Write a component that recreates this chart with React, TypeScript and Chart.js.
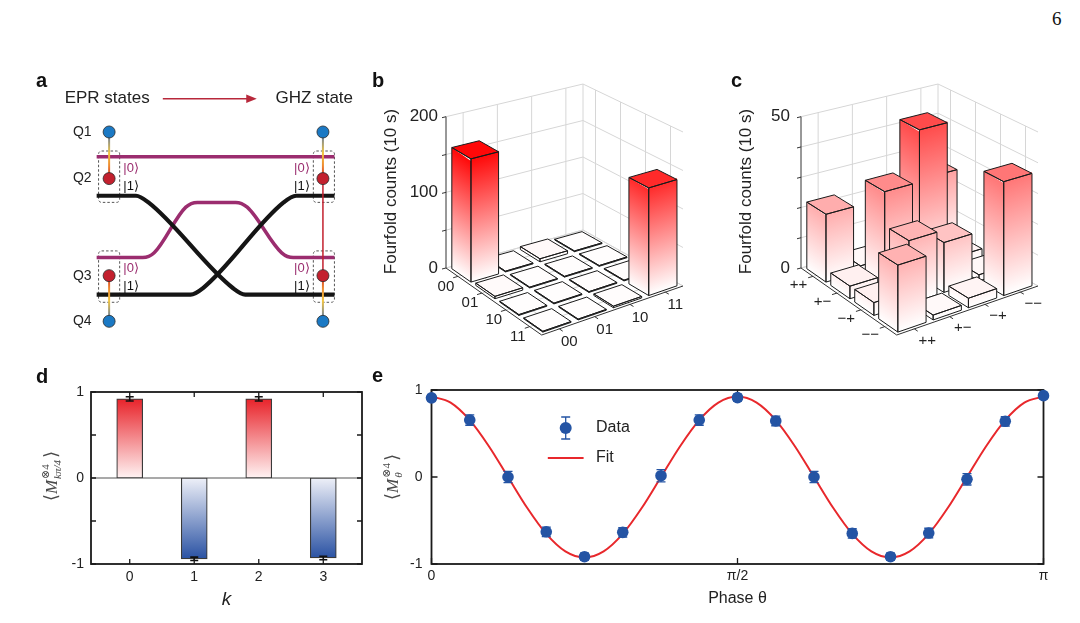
import React, { useEffect, useRef } from "react";
import { Chart, registerables } from "chart.js";

Chart.register(...registerables);

const SANS = "'Liberation Sans', Arial, Helvetica, sans-serif";
const SERIF = "'Liberation Serif', 'DejaVu Serif', serif";
Chart.defaults.font.family = SANS;
Chart.defaults.color = "#222";

// ================= Panel a (schematic, diagram units) =================
const qubitLabels = ["Q1", "Q2", "Q3", "Q4"];
const qubitRowsY = [128, 177, 279, 327];
const qubitColsX = [105, 328];
const qubitColors = ["#1b79c4", "#c3202e", "#c3202e", "#1b79c4"];
const pathPurpleTop = [[92, 154], [340, 154]];
const pathPurpleLow = [[92, 260], [140, 260], [152, 255], [185, 207], [197, 202], [237, 202], [249, 207], [285, 255], [297, 260], [340, 260]];
const pathBlackQ2 = [[92, 195], [133, 195], [146, 202], [234, 292], [247, 299], [340, 299]];
const pathBlackQ3 = [[92, 299], [190, 299], [203, 292], [287, 202], [300, 195], [340, 195]];
const ketTexts = ["|0⟩", "|1⟩"];
const ketRowsY = [[166, 185], [271, 290]];
const ketColsX = [128, 306];
const boxColsX = [[94, 116], [318, 340]];
const boxRowsY = [[148, 202], [253, 307]];

// ================= Panel b =================
const bLabels = ["00", "01", "10", "11"];
const bRow00 = [160, 1, 4, 1];
const bRow01 = [3, 1, 1, 1];
const bRow10 = [1, 1, 1, 1];
const bRow11 = [1, 1, 2, 138];
const bZTicks = [0, 50, 100, 150, 200];
const bZTickLabels = ["0", "", "100", "", "200"];

// ================= Panel c =================
const cLabels = ["++", "+\u2212", "\u2212+", "\u2212\u2212"];
const cRowPP = [22, 2, 1, 25];
const cRowPM = [4, 31, 48, 3];
const cRowMP = [4, 20, 16, 2];
const cRowMM = [20.5, 1.5, 3, 36.5];
const cZTicks = [0, 10, 20, 30, 40, 50];
const cZTickLabels = ["0", "", "", "", "", "50"];

// ================= Panel d =================
const kValues = [0, 1, 2, 3];
const kTickLabels = ["0", "1", "2", "3"];
const dValues = [0.92, -0.94, 0.92, -0.93];
const dErrors = [0.025, 0.02, 0.025, 0.02];
const dYTicks = [-1, -0.5, 0, 0.5, 1];
const dYTickLabels = ["-1", "", "0", "", "1"];

// ================= Panel e =================
const phaseE = [0, 0.0625, 0.125, 0.1875, 0.25, 0.3125, 0.375, 0.4375, 0.5, 0.5625, 0.625, 0.6875, 0.75, 0.8125, 0.875, 0.9375, 1];
const dataE = [0.91, 0.655, 0.0, -0.63, -0.916, -0.636, 0.015, 0.655, 0.912, 0.644, 0.0, -0.648, -0.916, -0.644, -0.027, 0.64, 0.935];
const errE = [0.035, 0.06, 0.065, 0.055, 0.04, 0.055, 0.07, 0.06, 0.04, 0.055, 0.065, 0.055, 0.04, 0.055, 0.065, 0.055, 0.035];
const fitPhase = [0, 0.03125, 0.0625, 0.09375, 0.125, 0.15625, 0.1875, 0.21875, 0.25, 0.28125, 0.3125, 0.34375, 0.375, 0.40625, 0.4375, 0.46875, 0.5, 0.53125, 0.5625, 0.59375, 0.625, 0.65625, 0.6875, 0.71875, 0.75, 0.78125, 0.8125, 0.84375, 0.875, 0.90625, 0.9375, 0.96875, 1];
const fitE = [0.925, 0.855, 0.654, 0.354, 0, -0.354, -0.654, -0.855, -0.925, -0.855, -0.654, -0.354, 0, 0.354, 0.654, 0.855, 0.925, 0.855, 0.654, 0.354, 0, -0.354, -0.654, -0.855, -0.925, -0.855, -0.654, -0.354, 0, 0.354, 0.654, 0.855, 0.925];
const eXTicks = [0, 0.5, 1];
const eXTickLabels = ["0", "π/2", "π"];
const eYTicks = [-1, 0, 1];
const eYTickLabels = ["-1", "0", "1"];

const BLUE = "#2454a4";
const RED = "#e8282c";

type P2 = [number, number];

function ChartPanel(props: { left: number; top: number; width: number; height: number; make: () => any }) {
  const ref = useRef<HTMLCanvasElement | null>(null);
  useEffect(() => {
    if (!ref.current) return;
    const chart = new Chart(ref.current, props.make());
    return () => chart.destroy();
  }, []);
  const { left, top, width, height } = props;
  return (
    <canvas
      ref={ref}
      width={width}
      height={height}
      style={{ position: "absolute", left, top, width, height }}
    />
  );
}

function drawMathLabel(ctx: CanvasRenderingContext2D, cx: number, cy: number, sub: string) {
  ctx.save();
  ctx.translate(cx, cy);
  ctx.rotate(-Math.PI / 2);
  ctx.fillStyle = "#4a4a4a";
  ctx.textBaseline = "alphabetic";
  ctx.textAlign = "left";
  const fBr = `18px ${SERIF}`;
  const fM = `italic 17px ${SERIF}`;
  const fSup = `11px ${SERIF}`;
  const fSub = `italic 11px ${SERIF}`;
  const w = (f: string, t: string) => {
    ctx.font = f;
    return ctx.measureText(t).width;
  };
  const wL = w(fBr, "⟨"), wM = w(fM, "M"), wSup = w(fSup, "⊗4"), wSub = w(fSub, sub), wR = w(fBr, "⟩");
  const wS = Math.max(wSup, wSub);
  const total = wL + wM + 1 + wS + 2 + wR;
  let x = -total / 2;
  const base = 5;
  ctx.font = fBr; ctx.fillText("⟨", x, base); x += wL;
  ctx.font = fM; ctx.fillText("M", x, base); x += wM + 1;
  ctx.font = fSup; ctx.fillText("⊗4", x, base - 8);
  ctx.font = fSub; ctx.fillText(sub, x, base + 4);
  x += wS + 2;
  ctx.font = fBr; ctx.fillText("⟩", x, base);
  ctx.restore();
}

function drawFrame(chart: any, xTicks: number[], yTicks: number[], len: number) {
  const { ctx, chartArea: a, scales } = chart;
  const x = scales.x, y = scales.y;
  ctx.save();
  ctx.strokeStyle = "#1a1a1a";
  ctx.lineWidth = 1.8;
  ctx.strokeRect(a.left, a.top, a.right - a.left, a.bottom - a.top);
  ctx.lineWidth = 1.3;
  ctx.beginPath();
  xTicks.forEach((v) => {
    const px = x.getPixelForValue(v);
    ctx.moveTo(px, a.bottom); ctx.lineTo(px, a.bottom - len);
    ctx.moveTo(px, a.top); ctx.lineTo(px, a.top + len);
  });
  yTicks.forEach((v) => {
    const py = y.getPixelForValue(v);
    ctx.moveTo(a.left, py); ctx.lineTo(a.left + len, py);
    ctx.moveTo(a.right, py); ctx.lineTo(a.right - len, py);
  });
  ctx.stroke();
  ctx.restore();
}

// ---------------- Panel a ----------------
function makeA() {
  const toXY = (p: number[][]) => p.map(([x, y]) => ({ x, y }));
  const circles: { x: number; y: number }[] = [];
  const colors: string[] = [];
  qubitColsX.forEach((cx) =>
    qubitRowsY.forEach((cy, i) => {
      circles.push({ x: cx, y: cy });
      colors.push(qubitColors[i]);
    })
  );
  const lineDs = (path: number[][], color: string, width: number) => ({
    type: "line",
    data: toXY(path),
    borderColor: color,
    borderWidth: width,
    pointRadius: 0,
    cubicInterpolationMode: "monotone",
    fill: false,
    borderCapStyle: "butt",
  });
  const plugin = {
    id: "diagramA",
    beforeDatasetsDraw(chart: any) {
      const { ctx, scales: { x, y } } = chart;
      ctx.save();
      ctx.strokeStyle = "#555";
      ctx.lineWidth = 1;
      ctx.setLineDash([2.5, 2]);
      boxColsX.forEach(([x1, x2]) =>
        boxRowsY.forEach(([y1, y2]) => {
          const px1 = x.getPixelForValue(x1), px2 = x.getPixelForValue(x2);
          const py1 = y.getPixelForValue(y1), py2 = y.getPixelForValue(y2);
          ctx.beginPath();
          if ((ctx as any).roundRect) (ctx as any).roundRect(px1, py1, px2 - px1, py2 - py1, 3);
          else ctx.rect(px1, py1, px2 - px1, py2 - py1);
          ctx.stroke();
        })
      );
      ctx.restore();
    },
    beforeDatasetDraw(chart: any, args: any) {
      if (args.index !== 0) return;
      const { ctx, scales: { x, y } } = chart;
      const conn = (cx: number, ya: number, yb: number, blueFirst: boolean) => {
        const px = x.getPixelForValue(cx);
        const p1 = y.getPixelForValue(ya), p2 = y.getPixelForValue(yb);
        const g = ctx.createLinearGradient(0, p1, 0, p2);
        const stops = [["#4a6db3", 0], ["#f3c640", 0.45], ["#ee8a2e", 0.72], ["#d0282c", 1]] as [string, number][];
        stops.forEach(([c, s]) => g.addColorStop(blueFirst ? s : 1 - s, c));
        ctx.strokeStyle = g;
        ctx.lineWidth = 2;
        ctx.beginPath(); ctx.moveTo(px, p1); ctx.lineTo(px, p2); ctx.stroke();
      };
      ctx.save();
      qubitColsX.forEach((cx) => {
        conn(cx, qubitRowsY[0], qubitRowsY[1], true);
        conn(cx, qubitRowsY[2], qubitRowsY[3], false);
      });
      const rx = x.getPixelForValue(qubitColsX[1]);
      ctx.strokeStyle = "#c3202e";
      ctx.lineWidth = 1.5;
      ctx.beginPath();
      ctx.moveTo(rx, y.getPixelForValue(qubitRowsY[1]));
      ctx.lineTo(rx, y.getPixelForValue(qubitRowsY[2]));
      ctx.stroke();
      ctx.restore();
    },
    afterDraw(chart: any) {
      const { ctx, scales: { x, y } } = chart;
      const X = (v: number) => x.getPixelForValue(v);
      const Y = (v: number) => y.getPixelForValue(v);
      ctx.save();
      ctx.textBaseline = "middle";
      ctx.textAlign = "center";
      ctx.fillStyle = "#222";
      ctx.font = `17px ${SANS}`;
      ctx.fillText("EPR states", X(103), Y(93));
      ctx.fillText("GHZ state", X(319), Y(93));
      // arrow
      ctx.strokeStyle = "#b8283b";
      ctx.fillStyle = "#b8283b";
      ctx.lineWidth = 1.6;
      ctx.beginPath(); ctx.moveTo(X(161), Y(93)); ctx.lineTo(X(250), Y(93)); ctx.stroke();
      ctx.beginPath(); ctx.moveTo(X(259), Y(93)); ctx.lineTo(X(248), Y(88.5)); ctx.lineTo(X(248), Y(97.5)); ctx.closePath(); ctx.fill();
      // qubit labels
      ctx.fillStyle = "#222";
      ctx.font = `14px ${SANS}`;
      qubitLabels.forEach((t, i) => ctx.fillText(t, X(77), Y(qubitRowsY[i])));
      // kets
      ctx.font = `13px ${SANS}`;
      ketColsX.forEach((kx) =>
        ketRowsY.forEach((rows) =>
          rows.forEach((ky, j) => {
            ctx.fillStyle = j === 0 ? "#9b2d6f" : "#111";
            ctx.fillText(ketTexts[j], X(kx), Y(ky));
          })
        )
      );
      ctx.restore();
    },
  };
  return {
    type: "line",
    data: {
      datasets: [
        {
          type: "scatter",
          data: circles,
          pointRadius: 6,
          pointBackgroundColor: colors,
          pointBorderColor: "#2b2b2b",
          pointBorderWidth: 0.8,
          showLine: false,
        },
        lineDs(pathBlackQ2, "#151515", 4.2),
        lineDs(pathBlackQ3, "#151515", 4.2),
        lineDs(pathPurpleLow, "#9b2d6f", 3.5),
        lineDs(pathPurpleTop, "#9b2d6f", 3.5),
      ],
    },
    options: {
      responsive: false,
      animation: false,
      events: [],
      layout: { padding: 0 },
      plugins: { legend: { display: false }, tooltip: { enabled: false } },
      scales: {
        x: { type: "linear", min: 40, max: 370, display: false },
        y: { type: "linear", min: 70, max: 350, reverse: true, display: false },
      },
    },
    plugins: [plugin],
  };
}

// ---------------- Panels b, c (3-D bars) ----------------
const FLOOR: P2[] = [[76, 208], [171.7, 275], [213, 170], [313, 226]]; // L, F, B, R corners
const ROOF: P2[] = [[76, 56.7], [171.7, 111], [213, 24], [313, 72]];

function bil(q: P2[], u: number, v: number): P2 {
  const a = (1 - u) * (1 - v), b = u * (1 - v), c = (1 - u) * v, d = u * v;
  return [
    a * q[0][0] + b * q[1][0] + c * q[2][0] + d * q[3][0],
    a * q[0][1] + b * q[1][1] + c * q[2][1] + d * q[3][1],
  ];
}
function proj(u: number, v: number, w: number): P2 {
  const f = bil(FLOOR, u, v), t = bil(ROOF, u, v);
  return [f[0] + (t[0] - f[0]) * w, f[1] + (t[1] - f[1]) * w];
}

function make3D(p: {
  rows: number[][];
  labels: string[];
  zMax: number;
  zTicks: number[];
  zTickLabels: string[];
  zGap: number;
  cMax: number;
  rowOff: P2;
  colOff: P2;
}) {
  const plugin = {
    id: "bar3d",
    afterDraw(chart: any) {
      const { ctx, scales } = chart;
      const sx = scales.x, sy = scales.y, sz = scales.z;
      const fu = (v: number) => (v - sx.min) / (sx.max - sx.min);
      const fv = (v: number) => (v - sy.min) / (sy.max - sy.min);
      const fw = (v: number) => (v - sz.min) / (sz.max - sz.min);
      const seg = (a: P2, b: P2) => { ctx.moveTo(a[0], a[1]); ctx.lineTo(b[0], b[1]); };
      const cats = p.labels.map((_, i) => i + 1);
      ctx.save();
      // walls + floor grid
      ctx.strokeStyle = "#d6d6d6";
      ctx.lineWidth = 1;
      ctx.beginPath();
      p.zTicks.forEach((z) => {
        const w = fw(z);
        seg(proj(0, 0, w), proj(0, 1, w));
        seg(proj(0, 1, w), proj(1, 1, w));
      });
      cats.forEach((i) => {
        const u = fu(i), v = fv(i);
        seg(proj(0, v, 0), proj(0, v, 1));
        seg(proj(u, 1, 0), proj(u, 1, 1));
        seg(proj(u, 0, 0), proj(u, 1, 0));
        seg(proj(0, v, 0), proj(1, v, 0));
      });
      seg(proj(0, 1, 0), proj(0, 1, 1));
      seg(proj(0, 0, 0), proj(0, 1, 0));
      seg(proj(0, 1, 0), proj(1, 1, 0));
      ctx.stroke();
      // z axis
      ctx.strokeStyle = "#333";
      ctx.beginPath();
      seg(proj(0, 0, 0), proj(0, 0, 1));
      p.zTicks.forEach((z) => {
        const q = proj(0, 0, fw(z));
        seg(q, [q[0] - 4, q[1] + 1]);
      });
      ctx.stroke();
      ctx.fillStyle = "#222";
      ctx.font = `17px ${SANS}`;
      ctx.textAlign = "right";
      ctx.textBaseline = "middle";
      p.zTicks.forEach((z, i) => {
        const q = proj(0, 0, fw(z));
        if (p.zTickLabels[i]) ctx.fillText(p.zTickLabels[i], q[0] - p.zGap, q[1]);
      });
      // bars, back to front
      const cells: { r: number; c: number; h: number }[] = [];
      p.rows.forEach((row, r) => row.forEach((h, c) => cells.push({ r, c, h })));
      cells.sort((a, b) => a.r - a.c - (b.r - b.c));
      const outline = (pts: P2[]) => {
        ctx.beginPath();
        ctx.moveTo(pts[0][0], pts[0][1]);
        for (let i = 1; i < pts.length; i++) ctx.lineTo(pts[i][0], pts[i][1]);
        ctx.closePath();
      };
      const gradFace = (o: P2, e1: P2, e2: P2, top: string) => {
        // parallelogram face, gradient from bottom (white) to top colour
        ctx.save();
        ctx.transform(e1[0] - o[0], e1[1] - o[1], e2[0] - o[0], e2[1] - o[1], o[0], o[1]);
        const g = ctx.createLinearGradient(0, 0, 0, 1);
        g.addColorStop(0, "#ffffff");
        g.addColorStop(1, top);
        ctx.fillStyle = g;
        ctx.fillRect(0, 0, 1, 1);
        ctx.restore();
      };
      ctx.lineJoin = "round";
      for (const cell of cells) {
        const u0 = fu(cell.r + 1 - 0.4), u1 = fu(cell.r + 1 + 0.4);
        const v0 = fv(cell.c + 1 - 0.4), v1 = fv(cell.c + 1 + 0.4);
        const w = fw(cell.h);
        const t = Math.min(1, cell.h / p.cMax);
        const gc = Math.round(255 * (1 - t));
        const topCol = `rgb(255,${gc},${gc})`;
        const A0 = proj(u0, v0, 0), B0 = proj(u1, v0, 0), C0 = proj(u1, v1, 0);
        const A1 = proj(u0, v0, w), B1 = proj(u1, v0, w), C1 = proj(u1, v1, w), D1 = proj(u0, v1, w);
        if (w > 0.002) {
          gradFace(A0, B0, A1, topCol);
          gradFace(B0, C0, B1, topCol);
        }
        ctx.fillStyle = topCol;
        outline([A1, B1, C1, D1]);
        ctx.fill();
        ctx.strokeStyle = "#1a1a1a";
        ctx.lineWidth = 1;
        outline([A0, B0, B1, A1]);
        ctx.stroke();
        outline([B0, C0, C1, B1]);
        ctx.stroke();
        outline([A1, B1, C1, D1]);
        ctx.stroke();
      }
      // front axes
      ctx.strokeStyle = "#333";
      ctx.lineWidth = 1;
      ctx.beginPath();
      seg(proj(0, 0, 0), proj(1, 0, 0));
      seg(proj(1, 0, 0), proj(1, 1, 0));
      cats.forEach((i) => {
        const u = fu(i), v = fv(i);
        seg(proj(u, 0, 0), proj(u, -0.035, 0));
        seg(proj(1, v, 0), proj(1.035, v, 0));
      });
      ctx.stroke();
      ctx.fillStyle = "#222";
      ctx.font = `15px ${SANS}`;
      ctx.textAlign = "center";
      p.labels.forEach((lab, i) => {
        const a = proj(fu(i + 1), 0, 0);
        ctx.fillText(lab, a[0] + p.rowOff[0], a[1] + p.rowOff[1]);
        const b = proj(1, fv(i + 1), 0);
        ctx.fillText(lab, b[0] + p.colOff[0], b[1] + p.colOff[1]);
      });
      // axis title
      ctx.translate(21.7, 131.5);
      ctx.rotate(-Math.PI / 2);
      ctx.font = `17px ${SANS}`;
      ctx.fillText("Fourfold counts (10 s)", 0, 0);
      ctx.restore();
    },
  };
  const pts: { x: number; y: number }[] = [];
  p.rows.forEach((row, r) => row.forEach((_, c) => pts.push({ x: r + 1, y: c + 1 })));
  return {
    type: "scatter",
    data: { datasets: [{ data: pts, pointRadius: 0 }] },
    options: {
      responsive: false,
      animation: false,
      events: [],
      layout: { padding: 0 },
      plugins: { legend: { display: false }, tooltip: { enabled: false } },
      scales: {
        x: { type: "linear", min: 0.5, max: 4.5, display: false },
        y: { type: "linear", min: 0.5, max: 4.5, display: false },
        z: { type: "linear", axis: "y", position: "left", min: 0, max: p.zMax, display: false },
      },
    },
    plugins: [plugin],
  };
}

// ---------------- Panel d ----------------
function makeD() {
  const plugin = {
    id: "dDeco",
    beforeDatasetsDraw(chart: any) {
      const { ctx, chartArea: a, scales: { y } } = chart;
      const y0 = y.getPixelForValue(0);
      ctx.save();
      ctx.strokeStyle = "#8c8c8c";
      ctx.lineWidth = 1.5;
      ctx.beginPath(); ctx.moveTo(a.left, y0); ctx.lineTo(a.right, y0); ctx.stroke();
      ctx.restore();
    },
    afterDatasetsDraw(chart: any) {
      const { ctx, scales: { x, y } } = chart;
      ctx.save();
      ctx.strokeStyle = "#111";
      ctx.lineWidth = 1.6;
      ctx.beginPath();
      kValues.forEach((k, i) => {
        const px = x.getPixelForValue(k);
        const y1 = y.getPixelForValue(dValues[i] + dErrors[i]);
        const y2 = y.getPixelForValue(dValues[i] - dErrors[i]);
        ctx.moveTo(px, y1); ctx.lineTo(px, y2);
        ctx.moveTo(px - 4, y1); ctx.lineTo(px + 4, y1);
        ctx.moveTo(px - 4, y2); ctx.lineTo(px + 4, y2);
      });
      ctx.stroke();
      ctx.restore();
    },
    afterDraw(chart: any) {
      drawFrame(chart, kValues, dYTicks, 5);
      drawMathLabel(chart.ctx, 52, 116, "kπ/4");
    },
  };
  return {
    type: "bar",
    data: {
      datasets: [
        {
          data: kValues.map((k, i) => ({ x: k, y: dValues[i] })),
          barThickness: 26,
          borderColor: "#3a3a3a",
          borderWidth: 1.2,
          borderSkipped: false,
          backgroundColor: (c: any) => {
            const chart = c.chart;
            if (!chart.chartArea || !c.raw) return "#e8232a";
            const y = chart.scales.y;
            const v = c.raw.y;
            const g = chart.ctx.createLinearGradient(0, y.getPixelForValue(v), 0, y.getPixelForValue(0));
            if (v >= 0) {
              g.addColorStop(0, "#e8232a");
              g.addColorStop(1, "#fff3f3");
            } else {
              g.addColorStop(0, "#2a52a3");
              g.addColorStop(1, "#eef0f8");
            }
            return g;
          },
        },
      ],
    },
    options: {
      responsive: false,
      animation: false,
      events: [],
      layout: { padding: { left: 0, right: 18, top: 32, bottom: 0 } },
      plugins: { legend: { display: false }, tooltip: { enabled: false } },
      scales: {
        x: {
          type: "linear",
          min: -0.6,
          max: 3.6,
          offset: false,
          afterBuildTicks: (s: any) => { s.ticks = kValues.map((v) => ({ value: v })); },
          ticks: { callback: (_v: any, i: number) => kTickLabels[i], font: { size: 14 }, padding: 5, color: "#222", maxRotation: 0, autoSkip: false },
          grid: { display: false, drawTicks: false },
          border: { display: false },
          title: { display: true, text: "k", font: { size: 19, style: "italic" }, padding: { top: 0, bottom: 12 }, color: "#222" },
          afterFit: (s: any) => { s.height = 59; },
        },
        y: {
          type: "linear",
          min: -1,
          max: 1,
          afterBuildTicks: (s: any) => { s.ticks = dYTicks.map((v) => ({ value: v })); },
          ticks: { callback: (_v: any, i: number) => dYTickLabels[i], font: { size: 14 }, padding: 7, color: "#222", autoSkip: false },
          grid: { display: false, drawTicks: false },
          border: { display: false },
          afterFit: (s: any) => { s.width = 91; },
        },
      },
    },
    plugins: [plugin],
  };
}

// ---------------- Panel e ----------------
function makeE() {
  const plugin = {
    id: "eDeco",
    beforeDatasetsDraw(chart: any) {
      drawFrame(chart, eXTicks, eYTicks, 6);
    },
    afterDatasetsDraw(chart: any) {
      const { ctx, scales: { x, y } } = chart;
      ctx.save();
      ctx.strokeStyle = BLUE;
      ctx.lineWidth = 1.3;
      ctx.beginPath();
      phaseE.forEach((ph, i) => {
        const px = x.getPixelForValue(ph);
        const y1 = y.getPixelForValue(dataE[i] + errE[i]);
        const y2 = y.getPixelForValue(dataE[i] - errE[i]);
        ctx.moveTo(px, y1); ctx.lineTo(px, y2);
        ctx.moveTo(px - 4.5, y1); ctx.lineTo(px + 4.5, y1);
        ctx.moveTo(px - 4.5, y2); ctx.lineTo(px + 4.5, y2);
      });
      ctx.stroke();
      ctx.restore();
    },
    afterDraw(chart: any) {
      const ctx = chart.ctx as CanvasRenderingContext2D;
      drawMathLabel(ctx, 13, 117, "θ");
      // legend
      ctx.save();
      const mx = 185.7, my = 68;
      ctx.strokeStyle = BLUE;
      ctx.fillStyle = BLUE;
      ctx.lineWidth = 1.3;
      ctx.beginPath();
      ctx.moveTo(mx, my - 11); ctx.lineTo(mx, my + 11);
      ctx.moveTo(mx - 4.5, my - 11); ctx.lineTo(mx + 4.5, my - 11);
      ctx.moveTo(mx - 4.5, my + 11); ctx.lineTo(mx + 4.5, my + 11);
      ctx.stroke();
      ctx.beginPath(); ctx.arc(mx, my, 6, 0, Math.PI * 2); ctx.fill();
      ctx.strokeStyle = RED;
      ctx.lineWidth = 2;
      ctx.beginPath(); ctx.moveTo(167.8, 98); ctx.lineTo(203.6, 98); ctx.stroke();
      ctx.fillStyle = "#222";
      ctx.font = `16px ${SANS}`;
      ctx.textAlign = "left";
      ctx.textBaseline = "middle";
      ctx.fillText("Data", 216, my);
      ctx.fillText("Fit", 216, 98);
      ctx.restore();
    },
  };
  return {
    type: "scatter",
    data: {
      datasets: [
        {
          label: "Data",
          data: phaseE.map((ph, i) => ({ x: ph, y: dataE[i] })),
          pointRadius: 5.8,
          pointBackgroundColor: BLUE,
          pointBorderColor: BLUE,
          pointBorderWidth: 0,
          showLine: false,
          clip: false,
        },
        {
          type: "line",
          label: "Fit",
          data: fitPhase.map((ph, i) => ({ x: ph, y: fitE[i] })),
          borderColor: RED,
          borderWidth: 2,
          pointRadius: 0,
          cubicInterpolationMode: "monotone",
          fill: false,
        },
      ],
    },
    options: {
      responsive: false,
      animation: false,
      events: [],
      layout: { padding: { left: 0, right: 36.5, top: 30, bottom: 0 } },
      plugins: { legend: { display: false }, tooltip: { enabled: false } },
      scales: {
        x: {
          type: "linear",
          min: 0,
          max: 1,
          afterBuildTicks: (s: any) => { s.ticks = eXTicks.map((v) => ({ value: v })); },
          ticks: { callback: (_v: any, i: number) => eXTickLabels[i], font: { size: 14 }, padding: 4, color: "#222", maxRotation: 0, autoSkip: false },
          grid: { display: false, drawTicks: false },
          border: { display: false },
          title: { display: true, text: "Phase θ", font: { size: 16 }, padding: { top: 0, bottom: 15 }, color: "#222" },
          afterFit: (s: any) => { s.height = 59; },
        },
        y: {
          type: "linear",
          min: -1,
          max: 1,
          afterBuildTicks: (s: any) => { s.ticks = eYTicks.map((v) => ({ value: v })); },
          ticks: { callback: (_v: any, i: number) => eYTickLabels[i], font: { size: 14 }, padding: 9, color: "#222", autoSkip: false },
          grid: { display: false, drawTicks: false },
          border: { display: false },
          afterFit: (s: any) => { s.width = 51.5; },
        },
      },
    },
    plugins: [plugin],
  };
}

const letterStyle = (left: number, top: number): React.CSSProperties => ({
  position: "absolute",
  left,
  top,
  font: `bold 20px ${SANS}`,
  lineHeight: "20px",
  color: "#111",
});

export default function App() {
  return (
    <div
      style={{
        position: "fixed",
        left: 0,
        top: 0,
        width: 1080,
        height: 623,
        background: "#fff",
        overflow: "hidden",
        fontFamily: SANS,
      }}
    >
      <div style={{ position: "absolute", left: 1052, top: 9, font: `19px ${SERIF}`, lineHeight: "19px", color: "#111" }}>6</div>
      <ChartPanel left={40} top={70} width={330} height={280} make={makeA} />
      <ChartPanel
        left={370}
        top={60}
        width={355}
        height={300}
        make={() =>
          make3D({
            rows: [bRow00, bRow01, bRow10, bRow11],
            labels: bLabels,
            zMax: 200,
            zTicks: bZTicks,
            zTickLabels: bZTickLabels,
            zGap: 8,
            cMax: 165,
            rowOff: [-12, 10],
            colOff: [10, 13],
          })
        }
      />
      <ChartPanel
        left={725}
        top={60}
        width={355}
        height={300}
        make={() =>
          make3D({
            rows: [cRowPP, cRowPM, cRowMP, cRowMM],
            labels: cLabels,
            zMax: 50,
            zTicks: cZTicks,
            zTickLabels: cZTickLabels,
            zGap: 11,
            cMax: 68,
            rowOff: [-14.5, 8.5],
            colOff: [13, 11.5],
          })
        }
      />
      <ChartPanel left={0} top={360} width={380} height={263} make={makeD} />
      <ChartPanel left={380} top={360} width={700} height={263} make={makeE} />
      <div style={letterStyle(36, 70)}>a</div>
      <div style={letterStyle(372, 70)}>b</div>
      <div style={letterStyle(731, 70)}>c</div>
      <div style={letterStyle(36, 366)}>d</div>
      <div style={letterStyle(372, 365)}>e</div>
    </div>
  );
}
